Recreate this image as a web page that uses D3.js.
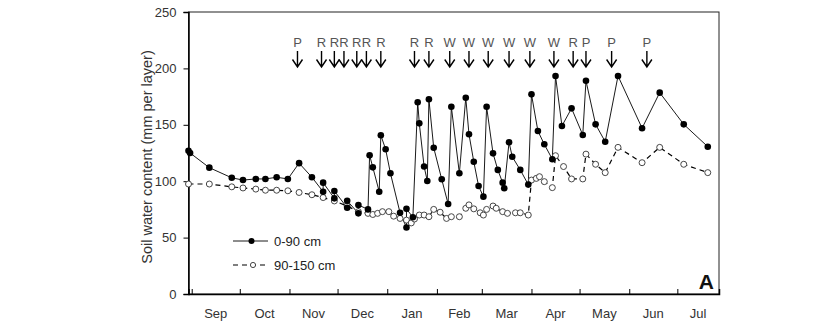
<!DOCTYPE html>
<html>
<head>
<meta charset="utf-8">
<script src="https://cdn.jsdelivr.net/npm/d3@7"></script>
<style>
  body { margin: 0; background: #fff; }
  text { font-family: "Liberation Sans", Arial, sans-serif; }
</style>
</head>
<body>
<div id="chart"></div>
<script>
// Soil water content, two layers, with irrigation / rain events
const topDates = ["2009-08-30","2009-08-31","2009-09-12","2009-09-26","2009-10-03","2009-10-11","2009-10-17","2009-10-24","2009-10-31","2009-11-07","2009-11-15","2009-11-22","2009-11-22","2009-11-29","2009-11-29","2009-12-07","2009-12-07","2009-12-14","2009-12-14","2009-12-20","2009-12-21","2009-12-23","2009-12-27","2009-12-28","2009-12-31","2010-01-03","2010-01-09","2010-01-13","2010-01-13","2010-01-17","2010-01-20","2010-01-21","2010-01-24","2010-01-26","2010-01-27","2010-01-30","2010-02-04","2010-02-08","2010-02-10","2010-02-15","2010-02-19","2010-02-21","2010-02-24","2010-02-27","2010-03-02","2010-03-04","2010-03-08","2010-03-11","2010-03-14","2010-03-15","2010-03-18","2010-03-20","2010-03-25","2010-03-30","2010-04-01","2010-04-05","2010-04-09","2010-04-14","2010-04-16","2010-04-20","2010-04-26","2010-05-03","2010-05-05","2010-05-11","2010-05-17","2010-05-25","2010-06-09","2010-06-20","2010-07-05","2010-07-20"]
const topValues = [127,125,112,103,101,102,102,103.5,102,116,103.5,90.7,98.7,84.8,91.3,76.5,82.7,71.5,78.9,75,123,112.3,90.7,140.7,128.3,107,72,59,75.5,68,170,151.3,113,100.2,172.6,129.7,101.7,79.8,166,107,174,141.6,117.3,95.7,86.3,166,124.7,110,98.7,93.7,134.5,121.7,110,97,177,144.5,132.7,119.5,193.3,149,164.6,141,189,150.4,135,193.3,147,178.5,150.4,130.6]

const subDates = ["2009-08-30","2009-09-12","2009-09-26","2009-10-03","2009-10-11","2009-10-17","2009-10-24","2009-10-31","2009-11-07","2009-11-15","2009-11-22","2009-11-29","2009-12-07","2009-12-14","2009-12-20","2009-12-23","2009-12-26","2009-12-29","2010-01-02","2010-01-05","2010-01-09","2010-01-13","2010-01-16","2010-01-18","2010-01-21","2010-01-24","2010-01-27","2010-01-30","2010-02-03","2010-02-07","2010-02-10","2010-02-15","2010-02-19","2010-02-21","2010-02-24","2010-02-28","2010-03-02","2010-03-04","2010-03-08","2010-03-10","2010-03-14","2010-03-17","2010-03-22","2010-03-25","2010-03-30","2010-04-01","2010-04-04","2010-04-06","2010-04-09","2010-04-14","2010-04-16","2010-04-21","2010-04-26","2010-05-03","2010-05-05","2010-05-11","2010-05-17","2010-05-25","2010-06-09","2010-06-20","2010-07-05","2010-07-20"]
const subValues = [97.5,97.5,95,94,93,92,92,91.5,90,88,85.5,82.5,78,73,71.5,70.5,71.5,73,73,69,67,65.5,63,66.5,70,70,68.5,75,72.5,67,68.5,68.5,76,79,75.5,72,70,75,78,76,73,71.5,72,72,70,101,102.5,104,99.6,94.3,122.6,113,102,102,124,115,107.6,130,116.4,130,115,107.6]

// events: P, R, W
const eventDates = ["2009-11-06","2009-11-21","2009-11-29","2009-12-05","2009-12-13","2009-12-19","2009-12-28","2010-01-18","2010-01-27","2010-02-09","2010-02-21","2010-03-05","2010-03-18","2010-03-31","2010-04-15","2010-04-27","2010-05-05","2010-05-21","2010-06-12"]
const eventLabels = ["P","R","R","R","R","R","R","R","R","W","W","W","W","W","W","R","P","P","P"]

const seriesNames = ["0-90 cm", "90-150 cm"]
const monthStarts = ["2009-09-01","2009-10-01","2009-11-01","2009-12-01","2010-01-01","2010-02-01","2010-03-01","2010-04-01","2010-05-01","2010-06-01","2010-07-01","2010-08-01"]
const monthNames = ["Sep","Oct","Nov","Dec","Jan","Feb","Mar","Apr","May","Jun","Jul"]
const xStart = "2009-08-30"
const xEnd = "2010-07-27"
const yTicks = [0, 50, 100, 150, 200, 250]

const svgWidth = 825
const svgHeight = 327

let margin = { top: 12, right: 106, bottom: 33, left: 188.5 }
let width = svgWidth - margin.left - margin.right
let height = svgHeight - margin.top - margin.bottom

const parse = d3.timeParse("%Y-%m-%d")

let svg = d3.select("#chart")
  .append("svg")
  .attr("width", svgWidth)
  .attr("height", svgHeight)

let chartGroup = svg.append("g")
  .attr("transform", `translate(${margin.left}, ${margin.top})`)

let x = d3.scaleTime()
  .domain([parse(xStart), parse(xEnd)])
  .range([0, width])

let y = d3.scaleLinear()
  .domain([0, 250])
  .range([height, 0])

// frame (top + right)
chartGroup.append("rect")
  .attr("width", width)
  .attr("height", height)
  .attr("fill", "none")
  .attr("stroke", "#222")
  .attr("stroke-width", 1)

// y axis
let leftAxis = d3.axisLeft(y).tickValues(yTicks).tickSize(5).tickPadding(7)
let yAxis = chartGroup.append("g").call(leftAxis)
yAxis.select(".domain").attr("stroke", "#000").attr("stroke-width", 1.5)
yAxis.selectAll(".tick line").attr("stroke", "#000")
yAxis.selectAll("text")
  .style("font-size", "13px")
  .attr("fill", "#333")

// x axis: ticks on month boundaries, pointing inward
let innerMonths = monthStarts.map(parse).filter(d => d > x.domain()[0] && d < x.domain()[1])
let bottomAxis = d3.axisBottom(x).tickValues(innerMonths).tickSize(-5).tickFormat("")
let xAxis = chartGroup.append("g")
  .attr("transform", `translate(0, ${height})`)
  .call(bottomAxis)
xAxis.select(".domain").attr("stroke", "#000").attr("stroke-width", 1.5)
xAxis.selectAll(".tick line").attr("stroke", "#000")

// month labels centred on each month
monthNames.forEach((m, i) => {
  let a = Math.max(x(parse(monthStarts[i])), 0)
  let b = Math.min(x(parse(monthStarts[i + 1])), width)
  chartGroup.append("text")
    .attr("x", (a + b) / 2)
    .attr("y", height + 24)
    .attr("text-anchor", "middle")
    .style("font-size", "13px")
    .attr("fill", "#333")
    .text(m)
})

// y label
svg.append("text")
  .attr("transform", `translate(152, ${margin.top + height / 2 + 4}) rotate(-90)`)
  .attr("text-anchor", "middle")
  .style("font-size", "14.5px")
  .attr("fill", "#333")
  .text("Soil water content (mm per layer)")

let topData = topDates.map((d, i) => ({ date: parse(d), value: topValues[i] }))
let subData = subDates.map((d, i) => ({ date: parse(d), value: subValues[i] }))

let line = d3.line()
  .x(d => x(d.date))
  .y(d => y(d.value))

// 90-150 cm dashed
chartGroup.append("path")
  .datum(subData)
  .attr("d", line)
  .attr("fill", "none")
  .attr("stroke", "#000")
  .attr("stroke-width", 1.2)
  .attr("stroke-dasharray", "5,4")

// 0-90 cm solid
chartGroup.append("path")
  .datum(topData)
  .attr("d", line)
  .attr("fill", "none")
  .attr("stroke", "#000")
  .attr("stroke-width", 0.9)

chartGroup.selectAll(".sub-dot")
  .data(subData)
  .enter()
  .append("circle")
  .attr("class", "sub-dot")
  .attr("cx", d => x(d.date))
  .attr("cy", d => y(d.value))
  .attr("r", 3)
  .attr("fill", "#fff")
  .attr("stroke", "#333")
  .attr("stroke-width", 0.9)

chartGroup.selectAll(".top-dot")
  .data(topData)
  .enter()
  .append("circle")
  .attr("class", "top-dot")
  .attr("cx", d => x(d.date))
  .attr("cy", d => y(d.value))
  .attr("r", 3.3)
  .attr("fill", "#000")

// event arrows
let events = chartGroup.selectAll(".event")
  .data(eventDates.map((d, i) => ({ date: parse(d), label: eventLabels[i] })))
  .enter()
  .append("g")
  .attr("class", "event")
  .attr("transform", d => `translate(${x(d.date)}, 0)`)

events.append("text")
  .attr("y", 35)
  .attr("text-anchor", "middle")
  .style("font-size", "13px")
  .attr("fill", "#555")
  .text(d => d.label)

events.append("path")
  .attr("d", "M0,39 L0,55 M-5,47.5 L0,55 L5,47.5")
  .attr("fill", "none")
  .attr("stroke", "#000")
  .attr("stroke-width", 1.4)

// legend
let legend = svg.append("g").attr("transform", "translate(233, 241)")
legend.append("line").attr("x1", 0).attr("x2", 35).attr("y1", 0).attr("y2", 0)
  .attr("stroke", "#000").attr("stroke-width", 0.9)
legend.append("circle").attr("cx", 18.5).attr("cy", 0).attr("r", 3).attr("fill", "#000")
legend.append("text").attr("x", 41).attr("y", 5).style("font-size", "13px").attr("fill", "#222").text(seriesNames[0])

legend.append("line").attr("x1", 0).attr("x2", 35).attr("y1", 24).attr("y2", 24)
  .attr("stroke", "#000").attr("stroke-width", 1.2).attr("stroke-dasharray", "5,4")
legend.append("circle").attr("cx", 20).attr("cy", 24).attr("r", 2.6)
  .attr("fill", "#fff").attr("stroke", "#333").attr("stroke-width", 0.9)
legend.append("text").attr("x", 41).attr("y", 29).style("font-size", "13px").attr("fill", "#222").text(seriesNames[1])

// panel letter
chartGroup.append("text")
  .attr("x", width - 5)
  .attr("y", height - 5)
  .attr("text-anchor", "end")
  .style("font-size", "21px")
  .style("font-weight", "bold")
  .attr("fill", "#111")
  .text("A")
</script>
</body>
</html>
